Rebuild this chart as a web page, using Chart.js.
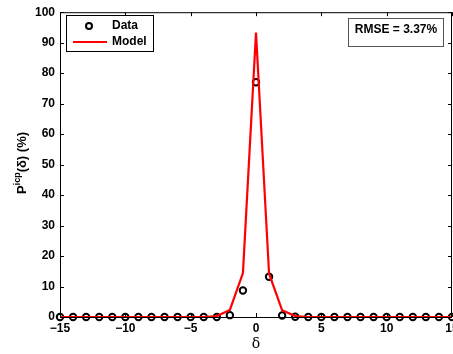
<!DOCTYPE html>
<html>
<head>
<meta charset="UTF-8">
<title>Picp model fit</title>
<script src="https://cdn.jsdelivr.net/npm/chart.js"></script>
<style>
  html, body { margin: 0; padding: 0; background: #fff; overflow: hidden; }
  #box { width: 453px; height: 354px; }
</style>
</head>
<body>
<div id="box"><canvas id="myChart"></canvas></div>
<script>
// data
const deltas = [-15,-14,-13,-12,-11,-10,-9,-8,-7,-6,-5,-4,-3,-2,-1,0,1,2,3,4,5,6,7,8,9,10,11,12,13,14,15];
const dataVals = [0,0,0,0,0,0,0,0,0,0,0,0,0,0.6,8.7,77,13.2,0.5,0.1,0,0,0,0,0,0,0,0,0,0,0,0];
const modelVals = [0,0,0,0,0,0,0,0,0,0,0,0,0.3,2.3,14.4,93.3,14.2,2.2,0.3,0,0,0,0,0,0,0,0,0,0,0,0];
const xTicks = [-15,-10,-5,0,5,10,15];
const yTicks = [0,10,20,30,40,50,60,70,80,90,100];
const rmseText = 'RMSE = 3.37%';

const FONT = '"Liberation Sans", Arial, sans-serif';

function pts(vals) {
  return deltas.map((d, i) => ({ x: d, y: vals[i] }));
}

function xLabel(v) {
  return v < 0 ? '\u2212' + Math.abs(v) : String(v);
}

// frame, inward ticks, x tick labels, legend, RMSE box and axis titles
const extras = {
  id: 'extras',
  afterDraw(chart) {
    const ctx = chart.ctx;
    const a = chart.chartArea;
    const xs = chart.scales.x, ys = chart.scales.y;
    ctx.save();
    ctx.strokeStyle = '#000';
    ctx.lineWidth = 1;
    ctx.strokeRect(a.left + 0.5, a.top + 0.5, a.right - a.left - 1, a.bottom - a.top);
    ctx.beginPath();
    xTicks.forEach(t => {
      const px = Math.round(xs.getPixelForValue(t)) + 0.5;
      ctx.moveTo(px, a.bottom); ctx.lineTo(px, a.bottom - 4);
      ctx.moveTo(px, a.top); ctx.lineTo(px, a.top + 4);
    });
    yTicks.forEach(t => {
      const py = Math.round(ys.getPixelForValue(t)) + 0.5;
      ctx.moveTo(a.left, py); ctx.lineTo(a.left + 4, py);
      ctx.moveTo(a.right, py); ctx.lineTo(a.right - 4, py);
    });
    ctx.stroke();

    // x tick labels (drawn here so they can run off the right edge)
    ctx.fillStyle = '#000';
    ctx.font = 'bold 12px ' + FONT;
    ctx.textAlign = 'center';
    ctx.textBaseline = 'top';
    xTicks.forEach(t => {
      ctx.fillText(xLabel(t), xs.getPixelForValue(t), a.bottom + 6);
    });

    // legend
    ctx.fillStyle = '#fff';
    ctx.fillRect(66, 15, 88, 37);
    ctx.strokeStyle = '#000';
    ctx.strokeRect(66.5, 15.5, 87, 36);
    ctx.beginPath();
    ctx.lineWidth = 2;
    ctx.arc(89, 26, 3, 0, Math.PI * 2);
    ctx.stroke();
    ctx.strokeStyle = '#ff0000';
    ctx.beginPath();
    ctx.moveTo(73, 42); ctx.lineTo(107, 42);
    ctx.stroke();
    ctx.fillStyle = '#000';
    ctx.font = 'bold 12px ' + FONT;
    ctx.textBaseline = 'middle';
    ctx.textAlign = 'left';
    ctx.fillText('Data', 112, 26);
    ctx.fillText('Model', 112, 42);

    // RMSE box
    ctx.lineWidth = 1;
    ctx.fillStyle = '#fff';
    ctx.fillRect(348, 18, 96, 28);
    ctx.strokeStyle = '#555';
    ctx.strokeRect(348.5, 18.5, 95, 28);
    ctx.fillStyle = '#000';
    ctx.textAlign = 'center';
    ctx.fillText(rmseText, 396, 30);

    // x title
    ctx.font = '14px "DejaVu Serif", serif';
    ctx.textBaseline = 'alphabetic';
    ctx.fillText('δ', (a.left + a.right) / 2, 348);

    // y title with superscript
    ctx.translate(26, 163);
    ctx.rotate(-Math.PI / 2);
    ctx.textAlign = 'left';
    const p1 = 'P', sup = 'icp', rest = '(δ) (%)';
    ctx.font = 'bold 13px ' + FONT;
    const w1 = ctx.measureText(p1).width;
    const w3 = ctx.measureText(rest).width;
    ctx.font = 'bold 9px ' + FONT;
    const w2 = ctx.measureText(sup).width;
    let x0 = -(w1 + w2 + w3) / 2;
    ctx.font = 'bold 13px ' + FONT;
    ctx.fillText(p1, x0, 0);
    ctx.font = 'bold 9px ' + FONT;
    ctx.fillText(sup, x0 + w1, -6);
    ctx.font = 'bold 13px ' + FONT;
    ctx.fillText(rest, x0 + w1 + w2, 0);
    ctx.restore();
  }
};

const config = {
  type: 'line',
  data: {
    datasets: [
      {
        label: 'Model',
        data: pts(modelVals),
        borderColor: '#ff0000',
        borderWidth: 2.2,
        pointRadius: 0,
        tension: 0,
        order: 0
      },
      {
        label: 'Data',
        data: pts(dataVals),
        showLine: false,
        borderColor: '#000',
        backgroundColor: 'rgba(0,0,0,0)',
        pointBorderWidth: 2,
        pointRadius: 3.2,
        pointStyle: 'circle',
        clip: false,
        order: 1
      }
    ]
  },
  options: {
    responsive: true,
    maintainAspectRatio: false,
    animation: false,
    layout: { autoPadding: false, padding: { top: 10, right: 1, left: 0, bottom: 0 } },
    plugins: { legend: { display: false }, tooltip: { enabled: false } },
    scales: {
      x: {
        type: 'linear',
        min: -15, max: 15,
        afterBuildTicks: s => { s.ticks = xTicks.map(v => ({ value: v })); },
        afterFit: s => { s.height = 37; },
        grid: { display: false, drawTicks: false },
        border: { display: false },
        ticks: { display: false }
      },
      y: {
        min: 0, max: 100,
        afterBuildTicks: s => { s.ticks = yTicks.map(v => ({ value: v })); },
        afterFit: s => { s.width = 60; },
        grid: { display: false, drawTicks: false },
        border: { display: false },
        ticks: {
          color: '#000',
          padding: 5,
          font: { family: FONT, size: 12, weight: 'bold' }
        }
      }
    }
  },
  plugins: [extras]
};

const myChart = new Chart(document.getElementById('myChart'), config);
</script>
</body>
</html>
